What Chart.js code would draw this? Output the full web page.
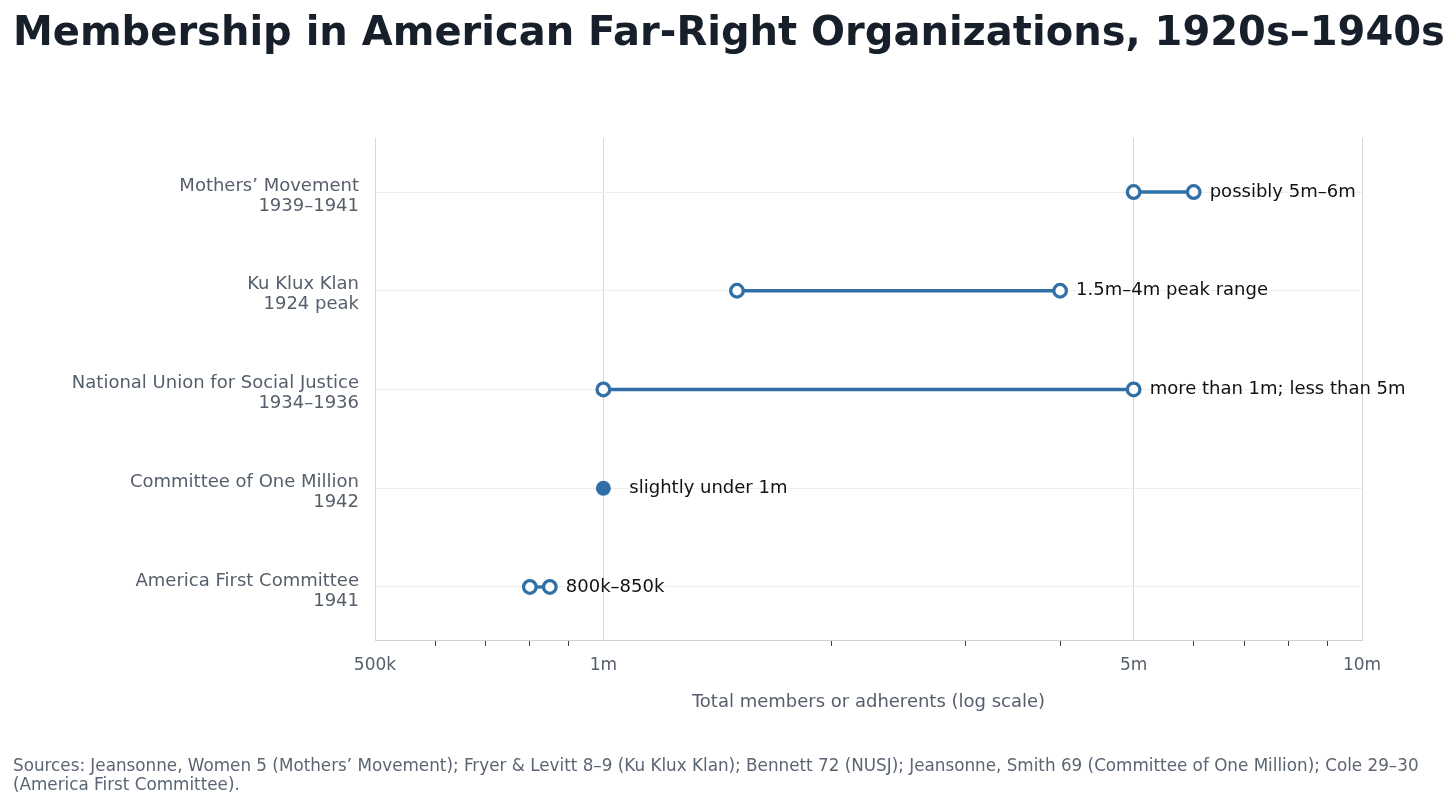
<!DOCTYPE html>
<html>
<head>
<meta charset="utf-8">
<script src="https://cdn.jsdelivr.net/npm/chart.js@4.4.1/dist/chart.umd.min.js"></script>
<style>
  html, body { margin: 0; padding: 0; background: #fff; }
  body { width: 1456px; height: 806px; position: relative; overflow: hidden; font-family: 'DejaVu Sans', sans-serif; }
  #chart { position: absolute; left: 0; top: 0; }
  h1 { position: absolute; left: 13px; top: 7px; margin: 0; font-size: 40px; line-height: 48px; font-weight: bold; color: #17202a; white-space: nowrap; }
  .sources { position: absolute; left: 13px; top: 756px; width: 1435px; margin: 0; font-size: 16.8px; line-height: 19px; color: #5b6573; }
</style>
</head>
<body>
<canvas id="chart" width="1456" height="806"></canvas>
<h1>Membership in American Far-Right Organizations, 1920s–1940s</h1>
<p class="sources">Sources: Jeansonne, Women 5 (Mothers’ Movement); Fryer &amp; Levitt 8–9 (Ku Klux Klan); Bennett 72 (NUSJ); Jeansonne, Smith 69 (Committee of One Million); Cole 29–30 (America First Committee).</p>
<script>
const orgs = ["Mothers’ Movement", "Ku Klux Klan", "National Union for Social Justice", "Committee of One Million", "America First Committee"];
const periods = ["1939–1941", "1924 peak", "1934–1936", "1942", "1941"];
const lowValues = [5000000, 1500000, 1000000, 1000000, 800000];
const highValues = [6000000, 4000000, 5000000, 1000000, 850000];
const notes = ["possibly 5m–6m", "1.5m–4m peak range", "more than 1m; less than 5m", "slightly under 1m", "800k–850k"];

const majorTicks = [500000, 1000000, 5000000, 10000000];
const majorLabels = ["500k", "1m", "5m", "10m"];
const minorTicks = [600000, 700000, 800000, 900000, 2000000, 3000000, 4000000, 6000000, 7000000, 8000000, 9000000];

const blue = '#3070a6';

const datasets = orgs.map((name, i) => {
    const single = lowValues[i] === highValues[i];
    const pts = single ? [{x: lowValues[i], y: i}] : [{x: lowValues[i], y: i}, {x: highValues[i], y: i}];
    return {
        label: name,
        data: pts,
        showLine: true,
        borderColor: blue,
        borderWidth: 3.3,
        pointRadius: single ? 7.5 : 6.3,
        pointBorderWidth: single ? 0 : 3.3,
        pointBackgroundColor: single ? blue : '#ffffff',
        pointBorderColor: blue,
        single: single
    };
});

const noteLabels = {
    id: 'noteLabels',
    afterDatasetsDraw(chart) {
        const ctx = chart.ctx;
        ctx.save();
        ctx.font = '18px "DejaVu Sans"';
        ctx.fillStyle = '#111111';
        ctx.textBaseline = 'middle';
        ctx.textAlign = 'left';
        chart.data.datasets.forEach((ds, i) => {
            const meta = chart.getDatasetMeta(i);
            const last = meta.data[meta.data.length - 1];
            const gap = ds.single ? 26 : 16;
            ctx.fillText(notes[i], last.x + gap, last.y);
        });
        ctx.restore();
    }
};

new Chart(document.getElementById('chart'), {
    type: 'scatter',
    data: { datasets: datasets },
    options: {
        responsive: false,
        animation: false,
        layout: { padding: { top: 138, right: 94, left: 13, bottom: 51 } },
        plugins: {
            legend: { display: false },
            tooltip: { enabled: false }
        },
        scales: {
            x: {
                type: 'logarithmic',
                min: 500000,
                max: 10000000,
                afterBuildTicks: (scale) => {
                    scale.ticks = majorTicks.concat(minorTicks).sort((a, b) => a - b).map(v => ({ value: v }));
                },
                afterFit: (scale) => { scale.height = 115; },
                ticks: {
                    autoSkip: false,
                    maxRotation: 0,
                    padding: 9,
                    color: '#555f6b',
                    font: { family: 'DejaVu Sans', size: 17 },
                    callback: (v) => {
                        const k = majorTicks.indexOf(v);
                        return k >= 0 ? majorLabels[k] : '';
                    }
                },
                grid: {
                    color: (c) => (c.tick && majorTicks.includes(c.tick.value)) ? '#d7d8dd' : 'rgba(0,0,0,0)',
                    tickColor: (c) => (c.tick && minorTicks.includes(c.tick.value)) ? '#444' : 'rgba(0,0,0,0)',
                    tickLength: 6,
                    lineWidth: 1
                },
                border: { color: '#cfd0d4', width: 1 },
                title: {
                    display: true,
                    text: 'Total members or adherents (log scale)',
                    color: '#555f6b',
                    font: { family: 'DejaVu Sans', size: 18 },
                    padding: { top: 0, bottom: 42 }
                }
            },
            y: {
                type: 'linear',
                reverse: true,
                min: -0.547,
                max: 4.537,
                afterBuildTicks: (scale) => {
                    scale.ticks = orgs.map((o, i) => ({ value: i }));
                },
                afterFit: (scale) => { scale.width = 362; },
                ticks: {
                    padding: 16,
                    labelOffset: 4,
                    color: '#555f6b',
                    font: { family: 'DejaVu Sans', size: 18, lineHeight: 1.11 },
                    callback: (v) => [orgs[v], periods[v]]
                },
                grid: { color: '#eeeeee', drawTicks: false },
                border: { color: '#d7d8dd' }
            }
        }
    },
    plugins: [noteLabels]
});
</script>
</body>
</html>
